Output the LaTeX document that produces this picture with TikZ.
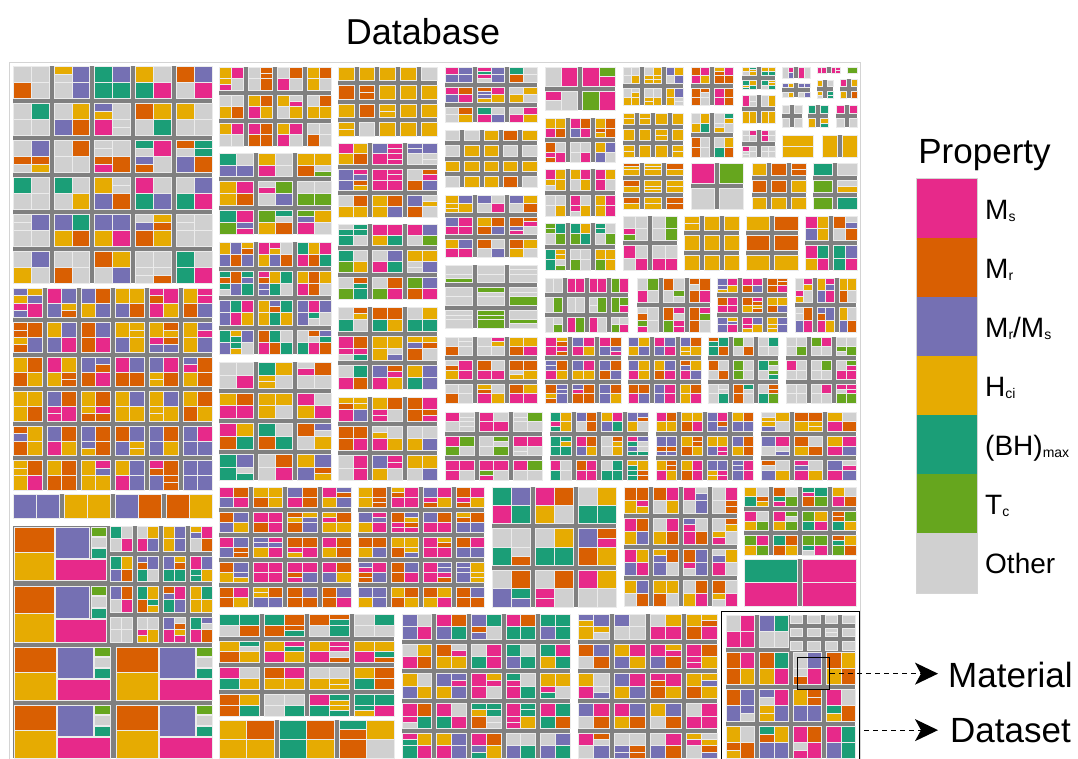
\documentclass[tikz,border=0pt]{standalone}
\usepackage{fontspec}
\setmainfont{Liberation Sans}
\usetikzlibrary{arrows.meta}

% property colours
\definecolor{cP}{HTML}{E7298A}% M_s
\definecolor{cO}{HTML}{D95F02}% M_r
\definecolor{cU}{HTML}{7570B3}% M_r/M_s
\definecolor{cY}{HTML}{E6AB02}% H_ci
\definecolor{cT}{HTML}{1B9E77}% (BH)_max
\definecolor{cG}{HTML}{66A61E}% T_c
\definecolor{cL}{HTML}{D0D0D0}% other
\definecolor{gapc}{HTML}{808080}
\definecolor{cellline}{HTML}{EBEBEB}
\definecolor{framec}{HTML}{D4D4D4}

% colour mixes used to fill the datasets
\pgfmathdeclarerandomlist{greyM}{{cL}{cL}{cL}{cL}{cP}{cO}{cY}{cT}{cU}}
\pgfmathdeclarerandomlist{warm}{{cP}{cO}{cU}{cY}}
\pgfmathdeclarerandomlist{warmL}{{cP}{cO}{cU}{cY}{cL}}
\pgfmathdeclarerandomlist{mixT}{{cP}{cO}{cU}{cY}{cT}{cL}}
\pgfmathdeclarerandomlist{mixTL}{{cP}{cO}{cU}{cY}{cT}{cL}{cL}}
\pgfmathdeclarerandomlist{all}{{cP}{cO}{cU}{cY}{cT}{cG}{cL}{cL}}
\pgfmathdeclarerandomlist{yel}{{cY}{cY}{cY}{cY}{cO}{cL}}
\pgfmathdeclarerandomlist{yelP}{{cY}{cY}{cP}{cO}{cL}{cL}}
\pgfmathdeclarerandomlist{yonly}{{cY}}
\pgfmathdeclarerandomlist{yelO}{{cO}{cY}{cY}}
\pgfmathdeclarerandomlist{grnL}{{cL}{cL}{cL}{cG}}
\pgfmathdeclarerandomlist{pinkL}{{cP}{cP}{cL}{cL}{cG}}
\pgfmathdeclarerandomlist{puyl}{{cU}{cY}{cY}{cL}}
\pgfmathdeclarerandomlist{oypl}{{cO}{cY}{cP}{cL}}
\pgfmathdeclarerandomlist{oytl}{{cO}{cY}{cT}{cL}}
\pgfmathdeclarerandomlist{ylt}{{cY}{cL}{cT}}
\pgfmathdeclarerandomlist{lop}{{cL}{cO}{cP}{cY}}
\pgfmathdeclarerandomlist{llp}{{cL}{cL}{cP}}
\pgfmathdeclarerandomlist{pul}{{cP}{cU}{cL}}
\pgfmathdeclarerandomlist{ponly}{{cP}}
\pgfmathdeclarerandomlist{gonly}{{cG}}
\pgfmathdeclarerandomlist{lonly}{{cL}}
\pgfmathdeclarerandomlist{uyl}{{cU}{cY}{cL}}
\pgfmathdeclarerandomlist{toyl}{{cT}{cO}{cY}{cL}}
\pgfmathdeclarerandomlist{poy}{{cP}{cO}{cY}}
\pgfmathdeclarerandomlist{pll}{{cP}{cL}{cL}}
\pgfmathdeclarerandomlist{ty}{{cT}{cY}}
\pgfmathdeclarerandomlist{ypl}{{cY}{cP}{cL}}
\pgfmathdeclarerandomlist{yyl}{{cY}{cY}{cL}}
\pgfmathdeclarerandomlist{llpg}{{cL}{cL}{cP}{cG}}
\pgfmathdeclarerandomlist{tygl}{{cT}{cY}{cL}{cG}}
\pgfmathdeclarerandomlist{pgll}{{cP}{cG}{cL}{cL}}
\pgfmathdeclarerandomlist{puotyl}{{cP}{cU}{cO}{cT}{cY}{cL}}
\pgfmathdeclarerandomlist{llpog}{{cL}{cL}{cP}{cO}{cG}}
\pgfmathdeclarerandomlist{upyo}{{cU}{cP}{cY}{cO}}
\pgfmathdeclarerandomlist{uoypl}{{cU}{cO}{cY}{cP}{cL}}
\pgfmathdeclarerandomlist{llgto}{{cL}{cL}{cG}{cT}{cO}}
\pgfmathdeclarerandomlist{pt}{{cP}{cT}}
\pgfmathdeclarerandomlist{ytopgl}{{cY}{cT}{cO}{cP}{cG}{cL}}
\pgfmathdeclarerandomlist{tpoyl}{{cT}{cP}{cO}{cY}{cL}}
\pgfmathdeclarerandomlist{ytol}{{cY}{cT}{cO}{cL}}
\pgfmathdeclarerandomlist{yptoul}{{cY}{cP}{cT}{cO}{cU}{cL}}
\pgfmathdeclarerandomlist{puyol}{{cP}{cU}{cY}{cO}{cL}}
\pgfmathdeclarerandomlist{greyD}{{cL}{cL}{cL}{cY}{cP}{cO}{cU}{cT}}
\pgfmathdeclarerandomlist{oyup}{{cO}{cY}{cU}{cP}}

\newcommand\gp{5}
% \dset{x0}{y0}{x1}{y1}{material w}{material h}{cols}{rows}{colour list}
\newcommand\dset[9]{%
  \fill[gapc] (#1,#2) rectangle (#3,#4);
  \pgfmathsetmacro\dW{#3-#1}%
  \pgfmathsetmacro\dH{#4-#2}%
  \pgfmathtruncatemacro\nx{max(1,round((\dW+\gp)/(#5+\gp)))}%
  \pgfmathtruncatemacro\ny{max(1,round((\dH+\gp)/(#6+\gp)))}%
  \pgfmathsetmacro\mw{(\dW-\gp*(\nx-1))/\nx}%
  \pgfmathsetmacro\mh{(\dH-\gp*(\ny-1))/\ny}%
  \pgfmathsetmacro\dcw{\mw/#7}%
  \pgfmathsetmacro\dch{\mh/#8}%
  \foreach \qi in {1,...,\nx}{%
    \foreach \qj in {1,...,\ny}{%
      \foreach \qa in {1,...,#7}{%
        \foreach \qb in {1,...,#8}{%
          \pgfmathsetmacro\xa{#1+(\qi-1)*(\mw+\gp)+(\qa-1)*\dcw}%
          \pgfmathsetmacro\yb{#2+(\qj-1)*(\mh+\gp)+(\qb-1)*\dch}%
          \pgfmathrandomitem{\ca}{#9}%
          \pgfmathrandomitem{\cb}{#9}%
          \pgfmathtruncatemacro\spl{rnd<0.15}%
          \ifnum\spl=1
            \fill[fill=\ca, cellbox] (\xa,\yb) rectangle ++(\dcw,\dch/2);
            \fill[fill=\cb, cellbox] (\xa,\yb+\dch/2) rectangle ++(\dcw,\dch/2);
          \else
            \fill[fill=\ca, cellbox] (\xa,\yb) rectangle ++(\dcw,\dch);
          \fi
        }}}}%
}

% one large material: M_r / H_ci on the left, M_r/M_s / M_s on the right,
% and a narrow column of small cells
% \bigmat{x}{y}{w}{h}
\newcommand\bigmat[4]{%
  \fill[cO, cellbox] (#1,#2) rectangle ++(0.44*#3,0.48*#4);
  \fill[cY, cellbox] (#1,#2+0.48*#4) rectangle ++(0.44*#3,0.52*#4);
  \fill[cU, cellbox] (#1+0.45*#3,#2) rectangle ++(0.37*#3,0.58*#4);
  \fill[cP, cellbox] (#1+0.45*#3,#2+0.6*#4) rectangle ++(0.55*#3,0.4*#4);
  \fill[cG, cellbox] (#1+0.84*#3,#2) rectangle ++(0.16*#3,0.17*#4);
  \fill[cL, cellbox] (#1+0.84*#3,#2+0.19*#4) rectangle ++(0.16*#3,0.19*#4);
  \fill[cT, cellbox] (#1+0.84*#3,#2+0.40*#4) rectangle ++(0.16*#3,0.18*#4);
}

\newcommand\sbs[1]{\raisebox{-0.1em}{\fontsize{14}{14}\selectfont #1}}

\tikzset{
  cellbox/.style={draw=cellline, line width=0.4pt},
  swatch/.style={minimum width=60, minimum height=59, inner sep=0, draw=none},
  leglab/.style={anchor=base west, inner sep=0, font=\fontsize{28}{30}\selectfont},
  bigtext/.style={inner sep=0, font=\fontsize{35}{40}\selectfont},
  selbox/.style={draw=black, line width=1.3pt, inner sep=0},
  pointer/.style={dashed, dash pattern=on 5pt off 4pt, line width=1.2pt,
    -{Stealth[length=23pt,width=22pt,inset=6pt]}},
}

\begin{document}
\begin{tikzpicture}[x=1pt, y=-1pt]
\pgfmathsetseed{11}
\useasboundingbox (0,0) rectangle (1078,758);
\fill[white] (0,0) rectangle (1078,758);

\node[bigtext, anchor=base, font=\fontsize{36}{40}\selectfont] (title) at (423,44) {Database};

% outer frame of the treemap
\draw[framec, line width=1pt] (9.5,62) rectangle (860.5,765);

% left column
\dset{13}{66}{212}{283}{34}{34}{2}{2}{greyM}
\dset{13}{288}{212}{490}{30}{30}{2}{2}{warm}
\dset{13}{494}{212}{518}{46}{24}{2}{1}{oyup}
\fill[gapc] (13,526) rectangle (212,758);
\bigmat{14}{527}{92}{53}
\bigmat{14}{586}{92}{56}
\bigmat{14}{647}{96}{53}
\bigmat{14}{705}{96}{53}
\bigmat{116}{647}{96}{53}
\bigmat{116}{705}{96}{53}
\dset{110}{526}{212}{642}{24}{24}{2}{2}{mixT}

% second column
\dset{219}{67}{331}{146}{24}{22}{2}{2}{yelP}
\dset{219}{153}{331}{234}{30}{26}{2}{2}{all}
\dset{219}{242}{331}{354}{35}{25}{3}{2}{mixT}
\dset{219}{362}{331}{480}{32}{28}{2}{2}{mixTL}

% third column
\dset{338}{67}{437}{136}{16}{12}{1}{1}{yel}
\dset{338}{143}{437}{217}{30}{24}{2}{2}{warmL}
\dset{338}{224}{437}{299}{30}{24}{2}{2}{all}
\dset{338}{307}{437}{389}{30}{26}{2}{2}{mixT}
\dset{338}{397}{437}{480}{30}{26}{2}{2}{warmL}

% fourth column
\dset{445}{67}{537}{122}{28}{18}{2}{2}{mixT}
\dset{445}{130}{537}{187}{14}{10}{1}{1}{yel}
\dset{445}{195}{537}{257}{28}{20}{2}{2}{warmL}
\dset{445}{265}{537}{328}{24}{16}{1}{2}{grnL}
\dset{445}{337}{537}{403}{28}{22}{2}{2}{oypl}
\dset{445}{412}{542}{480}{28}{22}{2}{2}{pgll}

% upper right group
\dset{545}{67}{615}{110}{30}{18}{2}{1}{pinkL}
\dset{545}{118}{615}{162}{22}{20}{2}{2}{puyol}
\dset{545}{169}{615}{216}{22}{20}{2}{2}{ypl}
\dset{545}{223}{615}{270}{22}{20}{2}{2}{tygl}
\dset{623}{67}{683}{105}{18}{16}{2}{2}{puyl}
\dset{623}{113}{683}{157}{12}{10}{1}{1}{yonly}
\dset{623}{163}{683}{209}{14}{14}{1}{2}{yelO}
\dset{691}{67}{733}{105}{20}{18}{2}{2}{oypl}
\dset{691}{113}{733}{157}{18}{16}{2}{2}{oytl}
\dset{742}{67}{775}{89}{16}{10}{2}{2}{ylt}
\dset{742}{95}{775}{123}{15}{14}{2}{1}{lop}
\dset{742}{130}{775}{157}{15}{13}{2}{2}{llp}
\dset{782}{67}{810}{78}{13}{10}{2}{1}{pul}
\dset{817}{67}{840}{73}{11}{6}{2}{1}{ponly}
\dset{847}{67}{857}{73}{10}{6}{1}{1}{gonly}
\dset{782}{83}{810}{97}{13}{6}{2}{1}{uyl}
\dset{817}{80}{833}{98}{8}{8}{1}{1}{toyl}
\dset{840}{79}{857}{98}{8}{9}{1}{1}{poy}
\dset{782}{105}{802}{127}{9}{10}{1}{1}{pll}
\dset{808}{105}{828}{127}{9}{10}{1}{1}{ty}
\dset{836}{105}{857}{127}{10}{10}{1}{1}{ypl}
\dset{782}{135}{813}{157}{31}{22}{1}{1}{yonly}
\dset{822}{135}{857}{157}{17}{22}{1}{1}{yyl}
\dset{691}{163}{743}{209}{26}{22}{1}{1}{llpg}
\dset{752}{163}{806}{209}{16}{14}{1}{1}{yelO}
\dset{813}{163}{857}{209}{20}{14}{1}{1}{tygl}
\dset{623}{216}{677}{270}{20}{20}{2}{2}{pgll}
\dset{684}{216}{739}{270}{18}{14}{1}{1}{yonly}
\dset{746}{216}{798}{270}{20}{14}{1}{1}{yelO}
\dset{805}{216}{857}{270}{22}{20}{2}{2}{puotyl}

% middle rows on the right
\dset{545}{278}{628}{332}{20}{16}{2}{1}{pgll}
\dset{637}{278}{710}{332}{22}{20}{2}{2}{llpog}
\dset{717}{278}{787}{332}{22}{18}{2}{2}{upyo}
\dset{795}{278}{856}{332}{20}{20}{2}{2}{uoypl}
\dset{545}{337}{621}{403}{22}{20}{2}{2}{oyup}
\dset{628}{337}{701}{403}{22}{20}{2}{2}{oyup}
\dset{708}{337}{778}{403}{22}{18}{2}{2}{llgto}
\dset{786}{337}{856}{403}{22}{20}{2}{2}{pgll}
\dset{550}{412}{648}{480}{24}{20}{2}{2}{puotyl}
\dset{656}{412}{753}{480}{24}{20}{2}{2}{oyup}
\dset{761}{412}{856}{480}{24}{20}{2}{2}{uoypl}

% lower band
\dset{219}{487}{351}{607}{30}{22}{2}{2}{warm}
\dset{358}{487}{484}{607}{30}{22}{2}{2}{warm}
\dset{492}{487}{616}{607}{38}{38}{2}{2}{greyD}
\dset{624}{487}{737}{606}{26}{30}{2}{2}{puyol}
\dset{744}{487}{856}{555}{22}{20}{2}{2}{ytopgl}
\dset{744}{559}{856}{606}{55}{47}{1}{2}{pt}

% bottom row
\dset{219}{614}{394}{716}{40}{24}{2}{2}{tpoyl}
\dset{219}{720}{394}{758}{60}{50}{2}{2}{ytol}
\dset{402}{614}{570}{758}{30}{28}{2}{2}{yptoul}
\dset{578}{614}{717}{758}{28}{28}{2}{2}{puyol}
\dset{726}{615}{855}{758}{30}{30}{2}{2}{yptoul}
\dset{790}{615}{855}{650}{14}{10}{1}{1}{lonly}

% highlighted dataset and material
\node[selbox, minimum width=138, minimum height=152, anchor=north west] (dsel) at (721,611) {};
\node[selbox, minimum width=32, minimum height=32, anchor=north west] (msel) at (797,657) {};

\node[bigtext, anchor=base west] (mtext) at (948,687) {Material};
\node[bigtext, anchor=base west] (dtext) at (950,742) {Dataset};
\draw[pointer, shorten >=10pt] (msel.east) -- (msel.east -| mtext.west);
\draw[pointer, shorten >=12pt] ([xshift=4pt]dsel.east |- dtext.west) -- (dtext.west);

% legend
\node[bigtext, anchor=base] (legtitle) at (984.5,163) {Property};
\node[swatch, fill=cP] (sw1) at (947,208.5) {};
\node[swatch, fill=cO] (sw2) at (947,267.5) {};
\node[swatch, fill=cU] (sw3) at (947,326.5) {};
\node[swatch, fill=cY] (sw4) at (947,385.5) {};
\node[swatch, fill=cT] (sw5) at (947,444.5) {};
\node[swatch, fill=cG] (sw6) at (947,503.5) {};
\node[swatch, fill=cL, minimum height=60] (sw7) at (947,563) {};
\draw[framec, line width=1pt] (sw1.north west) rectangle (sw7.south east);

\node[leglab] (lab1) at (985,219) {M\sbs{s}};
\node[leglab] (lab2) at (985,278) {M\sbs{r}};
\node[leglab] (lab3) at (985,337) {M\sbs{r}/M\sbs{s}};
\node[leglab] (lab4) at (985,396) {H\sbs{ci}};
\node[leglab] (lab5) at (985,455) {(BH)\sbs{max}};
\node[leglab] (lab6) at (985,514) {T\sbs{c}};
\node[leglab] (lab7) at (985,573) {Other};
\end{tikzpicture}
\end{document}
